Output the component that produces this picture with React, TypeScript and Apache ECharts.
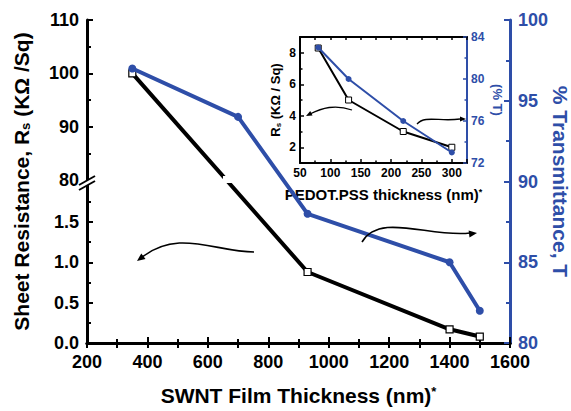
import React, { useEffect, useRef } from "react";
import * as echarts from "echarts";

// ---- data ----
const MAIN_RS_X = [350, 930, 1400, 1500];
const MAIN_RS = [100, 0.88, 0.17, 0.08];
const MAIN_T_X = [350, 700, 930, 1400, 1500];
const MAIN_T = [97, 94, 88, 85, 82];

const INSET_X = [80, 130, 220, 300];
const INSET_RS = [8.3, 5.0, 3.0, 2.0];
const INSET_T = [83, 80, 76, 73];

const LEFT_MAJOR_LOWER = [0, 0.5, 1.0, 1.5];
const LEFT_MAJOR_UPPER = [80, 90, 100, 110];
const LEFT_MINOR = [0.25, 0.75, 1.25, 1.75, 85, 95, 105];
const INSET_LEFT_MAJOR = [2, 4, 6, 8];
const INSET_LEFT_MINOR = [3, 5, 7];

// ---- broken-axis transform (lower 0..2 segment, upper 80..110 segment) ----
const LOWER_SCALE = 80.67;
const BREAK_T = 163;
const UPPER_SCALE = 160 / 30;
const T_MAX = 323;
const toT = (v: number) => (v <= 2 ? v * LOWER_SCALE : BREAK_T + (v - 80) * UPPER_SCALE);

const BLUE = "#2e4ea8";
const FONT = "'Liberation Sans', Arial, sans-serif";

function arrowHead(tipX: number, tipY: number, dx: number, dy: number, len = 8, w = 3.5) {
  const n = Math.hypot(dx, dy);
  const ux = dx / n, uy = dy / n;
  const bx = tipX - ux * len, by = tipY - uy * len;
  return {
    type: "polygon",
    shape: { points: [[tipX, tipY], [bx - uy * w, by + ux * w], [bx + uy * w, by - ux * w]] },
    style: { fill: "#000" },
    z: 20,
  };
}

function curve(p: number[][], width = 1.6) {
  return {
    type: "bezierCurve",
    shape: {
      x1: p[0][0], y1: p[0][1],
      cpx1: p[1][0], cpy1: p[1][1],
      cpx2: p[2][0], cpy2: p[2][1],
      x2: p[3][0], y2: p[3][1],
    },
    style: { stroke: "#000", lineWidth: width, fill: null },
    z: 20,
  };
}

export default function App() {
  const ref = useRef<HTMLDivElement>(null);
  useEffect(() => {
    document.body.style.margin = "0";
    const chart = echarts.init(ref.current!, null, { renderer: "svg" });
    const majorT = [...LEFT_MAJOR_LOWER, ...LEFT_MAJOR_UPPER].map(toT);
    const majorLabels = [
      ...LEFT_MAJOR_LOWER.map((v) => v.toFixed(1)),
      ...LEFT_MAJOR_UPPER.map((v) => String(v)),
    ];
    const minorT = LEFT_MINOR.map(toT);

    const tickLabel = { fontFamily: FONT, fontWeight: "bold", fontSize: 18, color: "#000" };
    const insetLabel = { fontFamily: FONT, fontWeight: "bold", fontSize: 12, color: "#000" };
    const plain = (v: number) => String(v);

    const decorations: any[] = [
      curve([[254, 252], [215, 252], [178, 228], [141, 258]]),
      arrowHead(137, 261, -4, 3),
      curve([[362, 242], [380, 212], [430, 238], [470, 233]]),
      arrowHead(477, 233, 8, -1),
      curve([[352, 110], [335, 104], [322, 108], [310, 114]], 1.3),
      arrowHead(306, 116, -4, 2, 6, 2.5),
      curve([[417, 124], [425, 115], [440, 122], [460, 119]], 1.3),
      arrowHead(466, 119, 6, 0, 6, 2.5),
      // axis break marks
      {
        type: "polygon",
        shape: { points: [[79, 185], [95, 176], [95, 181], [79, 190]] },
        style: { fill: "#fff" },
        z: 30,
      },
      { type: "line", shape: { x1: 79, y1: 185, x2: 95, y2: 176 }, style: { stroke: "#000", lineWidth: 2 }, z: 31 },
      { type: "line", shape: { x1: 79, y1: 190, x2: 95, y2: 181 }, style: { stroke: "#000", lineWidth: 2 }, z: 31 },
    ];

    const option: any = {
      animation: false,
      backgroundColor: "#fff",
      grid: [
        { left: 87, right: 61, top: 20, bottom: 68, containLabel: false, outerBoundsMode: "none" },
        { left: 300, right: 104, top: 37, bottom: 248, containLabel: false, outerBoundsMode: "none" },
      ],
      xAxis: [
        {
          type: "value", gridIndex: 0, position: "bottom", min: 200, max: 1600, interval: 200,
          axisLine: { lineStyle: { color: "#000", width: 3 } },
          axisTick: { inside: true, length: 6, lineStyle: { color: "#000", width: 2 } },
          minorTick: { show: true, splitNumber: 2, length: 4, lineStyle: { color: "#000", width: 2 } },
          axisLabel: { ...tickLabel, margin: 10, formatter: plain },
          splitLine: { show: false },
          name: "SWNT Film Thickness (nm){sup|*}",
          nameLocation: "middle",
          nameGap: 42,
          nameTextStyle: {
            fontFamily: FONT, fontWeight: "bold", fontSize: 21, color: "#000",
            rich: { sup: { fontFamily: FONT, fontWeight: "bold", fontSize: 13, color: "#000", verticalAlign: "top", lineHeight: 13 } },
          },
        },
        {
          type: "value", gridIndex: 0, position: "top", min: 200, max: 1600, interval: 100,
          axisLine: { lineStyle: { color: "#000", width: 3 } },
          axisTick: { inside: true, length: 5, lineStyle: { color: "#000", width: 2 } },
          axisLabel: { show: false },
          splitLine: { show: false },
        },
        {
          type: "value", gridIndex: 1, position: "bottom", min: 50, max: 325, interval: 50,
          axisLine: { lineStyle: { color: "#000", width: 2 } },
          axisTick: { inside: true, length: 4, lineStyle: { color: "#000", width: 1.5 } },
          minorTick: { show: true, splitNumber: 2, length: 2.5, lineStyle: { color: "#000", width: 1.5 } },
          axisLabel: { ...insetLabel, margin: 4, showMaxLabel: false, formatter: plain },
          splitLine: { show: false },
          name: "PEDOT.PSS thickness (nm){sup|*}",
          nameLocation: "middle",
          nameGap: 24,
          nameTextStyle: {
            fontFamily: FONT, fontWeight: "bold", fontSize: 15, color: "#000",
            rich: { sup: { fontFamily: FONT, fontWeight: "bold", fontSize: 9, color: "#000", verticalAlign: "top", lineHeight: 9 } },
          },
        },
        {
          type: "value", gridIndex: 1, position: "top", min: 50, max: 325, interval: 25,
          axisLine: { lineStyle: { color: "#000", width: 2 } },
          axisTick: { inside: true, length: 3, lineStyle: { color: "#000", width: 1.5 } },
          axisLabel: { show: false },
          splitLine: { show: false },
        },
      ],
      yAxis: [
        {
          type: "value", gridIndex: 0, position: "left", min: 0, max: T_MAX,
          axisLine: { show: true, lineStyle: { color: "#000", width: 3 } },
          axisTick: { show: true, inside: true, length: 6, lineStyle: { color: "#000", width: 2 }, customValues: majorT },
          axisLabel: {
            ...tickLabel, margin: 8, customValues: majorT,
            formatter: (v: number) => {
              let best = 0;
              majorT.forEach((t, i) => { if (Math.abs(t - v) < Math.abs(majorT[best] - v)) best = i; });
              return majorLabels[best];
            },
          },
          splitLine: { show: false },
          name: "Sheet Resistance, R{sub|s} (KΩ /Sq)",
          nameLocation: "middle",
          nameGap: 55,
          nameTextStyle: {
            fontFamily: FONT, fontWeight: "bold", fontSize: 21, color: "#000",
            rich: { sub: { fontFamily: FONT, fontWeight: "bold", fontSize: 13, color: "#000", verticalAlign: "bottom", lineHeight: 13 } },
          },
        },
        {
          type: "value", gridIndex: 0, position: "left", min: 0, max: T_MAX,
          axisLine: { show: false },
          axisTick: { show: true, inside: true, length: 4, lineStyle: { color: "#000", width: 2 }, customValues: minorT },
          axisLabel: { show: false },
          splitLine: { show: false },
        },
        {
          type: "value", gridIndex: 0, position: "right", min: 80, max: 100, interval: 5,
          axisLine: { show: true, lineStyle: { color: BLUE, width: 3 } },
          axisTick: { show: true, inside: true, length: 6, lineStyle: { color: BLUE, width: 2 } },
          minorTick: { show: true, splitNumber: 2, length: 4, lineStyle: { color: BLUE, width: 2 } },
          axisLabel: { ...tickLabel, color: BLUE, margin: 8 },
          splitLine: { show: false },
          name: "% Transmittance, T",
          nameLocation: "middle",
          nameRotate: -90,
          nameGap: 40,
          nameMoveOverlap: false,
          nameTextStyle: { fontFamily: FONT, fontWeight: "bold", fontSize: 21, color: BLUE },
        },
        {
          type: "value", gridIndex: 1, position: "left", min: 1, max: 9,
          axisLine: { show: true, lineStyle: { color: "#000", width: 2 } },
          axisTick: { show: true, inside: true, length: 4, lineStyle: { color: "#000", width: 1.5 }, customValues: INSET_LEFT_MAJOR },
          axisLabel: { ...insetLabel, margin: 4, customValues: INSET_LEFT_MAJOR },
          splitLine: { show: false },
          name: "R{sub|s} (KΩ / Sq)",
          nameLocation: "middle",
          nameGap: 18,
          nameTextStyle: {
            fontFamily: FONT, fontWeight: "bold", fontSize: 13, color: "#000",
            rich: { sub: { fontFamily: FONT, fontWeight: "bold", fontSize: 8, color: "#000", verticalAlign: "bottom", lineHeight: 8 } },
          },
        },
        {
          type: "value", gridIndex: 1, position: "right", min: 72, max: 84, interval: 4,
          axisLine: { show: true, lineStyle: { color: BLUE, width: 2 } },
          axisTick: { show: true, inside: true, length: 4, lineStyle: { color: BLUE, width: 1.5 } },
          minorTick: { show: true, splitNumber: 2, length: 2.5, lineStyle: { color: BLUE, width: 1.5 } },
          axisLabel: { ...insetLabel, color: BLUE, margin: 4 },
          splitLine: { show: false },
          name: "(% T)",
          nameLocation: "middle",
          nameRotate: -90,
          nameGap: 24,
          nameTextStyle: { fontFamily: FONT, fontWeight: "bold", fontSize: 13, color: BLUE },
        },
        {
          type: "value", gridIndex: 1, position: "left", min: 1, max: 9,
          axisLine: { show: false },
          axisTick: { show: true, inside: true, length: 2.5, lineStyle: { color: "#000", width: 1.5 }, customValues: INSET_LEFT_MINOR },
          axisLabel: { show: false },
          splitLine: { show: false },
        },
      ],
      series: [
        {
          type: "line", xAxisIndex: 0, yAxisIndex: 0, z: 3,
          data: MAIN_RS_X.map((x, i) => [x, toT(MAIN_RS[i])]),
          lineStyle: { color: "#000", width: 4 },
          symbol: "rect", symbolSize: 7,
          itemStyle: { color: "#fff", borderColor: "#000", borderWidth: 1.2 },
        },
        {
          type: "line", xAxisIndex: 0, yAxisIndex: 2, z: 5,
          data: MAIN_T_X.map((x, i) => [x, MAIN_T[i]]),
          lineStyle: { color: BLUE, width: 4 },
          symbol: "circle", symbolSize: 8,
          itemStyle: { color: BLUE },
        },
        {
          type: "line", xAxisIndex: 2, yAxisIndex: 3, z: 6,
          data: INSET_X.map((x, i) => [x, INSET_RS[i]]),
          lineStyle: { color: "#000", width: 2 },
          symbol: "rect", symbolSize: 6,
          itemStyle: { color: "#fff", borderColor: "#000", borderWidth: 1 },
        },
        {
          type: "line", xAxisIndex: 2, yAxisIndex: 4, z: 7,
          data: INSET_X.map((x, i) => [x, INSET_T[i]]),
          lineStyle: { color: BLUE, width: 2 },
          symbol: "circle", symbolSize: 6,
          itemStyle: { color: BLUE },
        },
      ],
      graphic: decorations,
    };
    chart.setOption(option);

    // white band that cuts the black line where it crosses the axis break,
    // positioned through the chart's own scales
    const p1 = chart.convertToPixel({ xAxisIndex: 0, yAxisIndex: 0 }, [650, BREAK_T + 4]) as number[];
    const p2 = chart.convertToPixel({ xAxisIndex: 0, yAxisIndex: 0 }, [800, BREAK_T - 3]) as number[];
    if (p1 && p2) {
      chart.setOption({
        graphic: [
          ...decorations,
          {
            type: "rect",
            shape: { x: p1[0], y: p1[1], width: p2[0] - p1[0], height: p2[1] - p1[1] },
            style: { fill: "#fff" },
            z: 4,
          },
        ],
      });
    }
    return () => chart.dispose();
  }, []);
  return <div ref={ref} style={{ position: "absolute", left: 0, top: 0, width: 571, height: 411 }} />;
}
